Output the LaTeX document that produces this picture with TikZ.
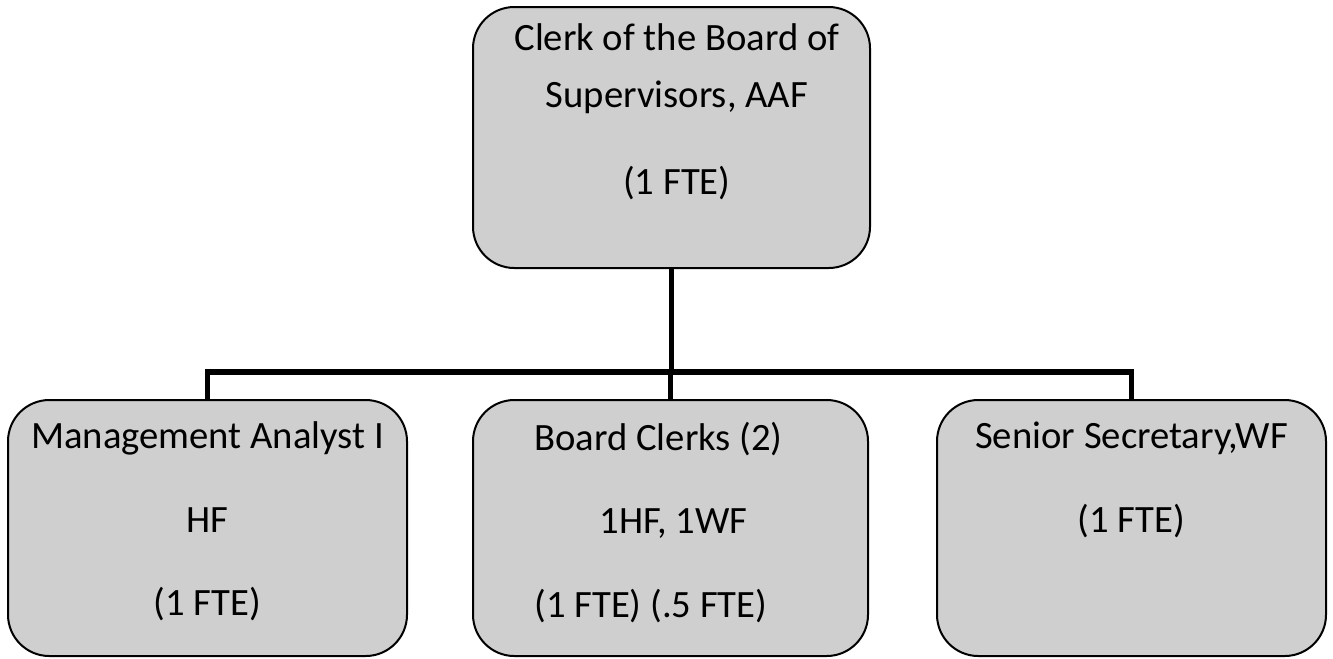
\documentclass[tikz,border=0pt]{standalone}
\usepackage{fontspec}
\setmainfont{Carlito}
\usetikzlibrary{positioning}

\begin{document}
\begin{tikzpicture}[x=0.75pt,y=-0.75pt,
  post/.style={draw=black,line width=1.5pt,fill=gray!38,rounded corners=31pt},
  job/.style={align=center,inner sep=0pt,font=\fontsize{29}{34.8}\selectfont},
  link/.style={line width=3.9pt}]
\useasboundingbox (0,0) rectangle (1333,658);
% boxes
\node[post,minimum width=297.75pt,minimum height=195.75pt] (clerk) at (671.5,137.5) {};
\node[post,minimum width=299.25pt,minimum height=192pt] (analyst) at (207.5,528) {};
\node[post,minimum width=296.25pt,minimum height=192pt] (clerks) at (670.5,528) {};
\node[post,minimum width=291.75pt,minimum height=192pt] (secretary) at (1131.5,528) {};
% texts
\node[job,below=13pt of clerk.north,xshift=4pt] (clerktxt)
  {Clerk of the Board of\\[8pt]Supervisors, AAF\\[30.5pt](1 FTE)};
\node[job,below=17pt of analyst.north] (analysttxt)
  {Management Analyst I\\[27.8pt]HF\\[27.8pt](1 FTE)};
\node[job,align=left,below=17pt of clerks.north,xshift=-9pt] (clerkstxt)
  {Board Clerks (2)\\[27.8pt]\hspace*{49pt}1HF, 1WF\\[27.8pt](1 FTE) (.5 FTE)};
\node[job,below=17pt of secretary.north] (secretarytxt)
  {Senior Secretary,WF\\[27.8pt](1 FTE)};
% lines
\coordinate (bar) at (670.5,372);
\draw[link] (clerk.south) -- (clerk.south |- bar);
\draw[link] (analyst.north) |- (bar) -| (secretary.north);
\draw[link] (bar) -- (clerks.north -| bar);
\end{tikzpicture}
\end{document}
